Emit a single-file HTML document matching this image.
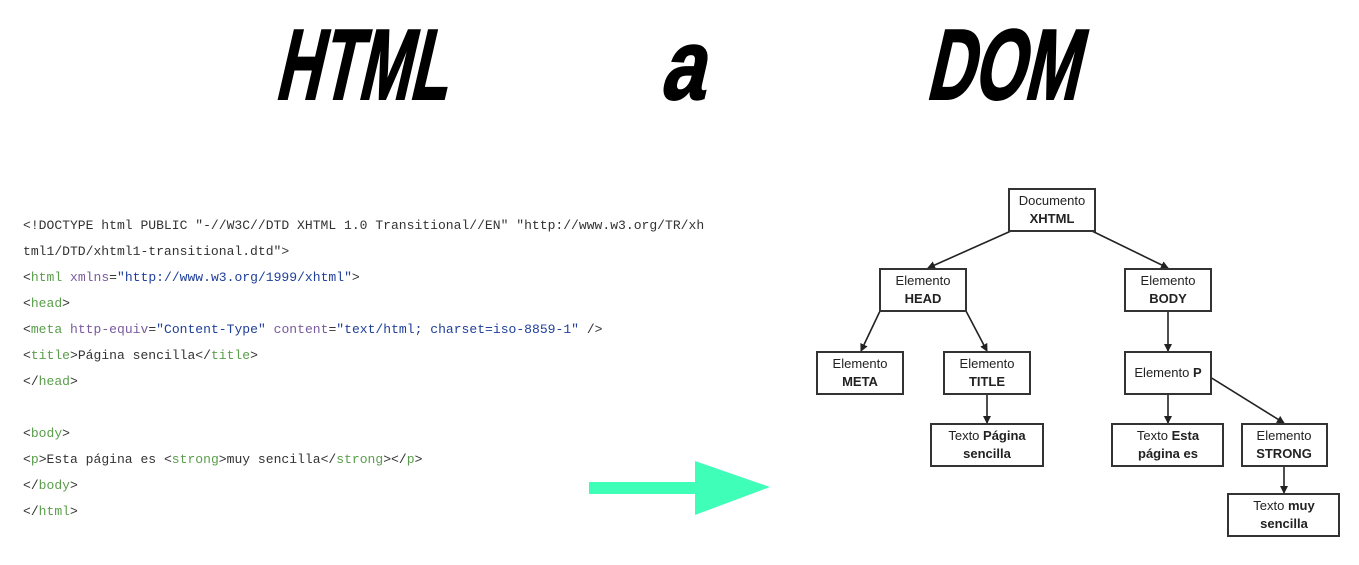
<!DOCTYPE html>
<html><head><meta charset="utf-8"><style>
html,body{margin:0;padding:0;background:#fff;width:1359px;height:565px;overflow:hidden}
svg{display:block}
.c{font-family:"Liberation Mono",monospace;font-size:13.05px;fill:#333}
.g{fill:#5a9e4b}.p{fill:#7a5aa0}.b{fill:#1f3f9a}
.n{font-family:"Liberation Sans",sans-serif;font-size:13px;fill:#222;text-anchor:middle}
rect.bx{fill:#fff;stroke:#333;stroke-width:2}
line.a{stroke:#222;stroke-width:1.6;marker-end:url(#ah)}
.t{font-family:"Liberation Sans",sans-serif;font-weight:bold;font-size:100px;fill:#000;stroke:#000;stroke-width:2}
</style></head><body>
<svg width="1359" height="565" viewBox="0 0 1359 565" xmlns="http://www.w3.org/2000/svg">
<defs><marker id="ah" markerWidth="8" markerHeight="8" refX="7" refY="4" orient="auto" markerUnits="userSpaceOnUse"><path d="M0,0 L8,4 L0,8 z" fill="#222"/></marker></defs>
<g transform="translate(0,100) skewX(-13) translate(0,-100)">
<text class="t" x="274" y="99" textLength="172" lengthAdjust="spacingAndGlyphs">HTML</text>
<text class="t" x="659" y="99" textLength="44" lengthAdjust="spacingAndGlyphs">a</text>
<text class="t" x="925" y="99" textLength="152" lengthAdjust="spacingAndGlyphs">DOM</text>
</g>

<g class="c">
<text x="23" y="229">&lt;!DOCTYPE html PUBLIC "-//W3C//DTD XHTML 1.0 Transitional//EN" "http://www.w3.org/TR/xh</text>
<text x="23" y="255">tml1/DTD/xhtml1-transitional.dtd"&gt;</text>
<text x="23" y="281">&lt;<tspan class="g">html</tspan> <tspan class="p">xmlns</tspan>=<tspan class="b">"http://www.w3.org/1999/xhtml"</tspan>&gt;</text>
<text x="23" y="307">&lt;<tspan class="g">head</tspan>&gt;</text>
<text x="23" y="333">&lt;<tspan class="g">meta</tspan> <tspan class="p">http-equiv</tspan>=<tspan class="b">"Content-Type"</tspan> <tspan class="p">content</tspan>=<tspan class="b">"text/html; charset=iso-8859-1"</tspan> /&gt;</text>
<text x="23" y="359">&lt;<tspan class="g">title</tspan>&gt;Página sencilla&lt;/<tspan class="g">title</tspan>&gt;</text>
<text x="23" y="385">&lt;/<tspan class="g">head</tspan>&gt;</text>
<text x="23" y="437">&lt;<tspan class="g">body</tspan>&gt;</text>
<text x="23" y="463">&lt;<tspan class="g">p</tspan>&gt;Esta página es &lt;<tspan class="g">strong</tspan>&gt;muy sencilla&lt;/<tspan class="g">strong</tspan>&gt;&lt;/<tspan class="g">p</tspan>&gt;</text>
<text x="23" y="489">&lt;/<tspan class="g">body</tspan>&gt;</text>
<text x="23" y="515">&lt;/<tspan class="g">html</tspan>&gt;</text>
</g>

<rect x="589" y="482" width="108" height="12" fill="#3fffb8"/>
<polygon points="695,461 770,487 695,515" fill="#3fffb8"/>

<g>
<line class="a" x1="1011" y1="231" x2="928" y2="268"/>
<line class="a" x1="1092" y1="231" x2="1168" y2="268"/>
<line class="a" x1="880" y1="311" x2="861" y2="351"/>
<line class="a" x1="966" y1="311" x2="987" y2="351"/>
<line class="a" x1="1168" y1="311" x2="1168" y2="351"/>
<line class="a" x1="987" y1="394" x2="987" y2="423"/>
<line class="a" x1="1168" y1="394" x2="1168" y2="423"/>
<line class="a" x1="1210" y1="377" x2="1284" y2="423"/>
<line class="a" x1="1284" y1="466" x2="1284" y2="493"/>
</g>
<g>
<rect class="bx" x="1009" y="189" width="86" height="42"/>
<rect class="bx" x="880" y="269" width="86" height="42"/>
<rect class="bx" x="1125" y="269" width="86" height="42"/>
<rect class="bx" x="817" y="352" width="86" height="42"/>
<rect class="bx" x="944" y="352" width="86" height="42"/>
<rect class="bx" x="1125" y="352" width="86" height="42"/>
<rect class="bx" x="931" y="424" width="112" height="42"/>
<rect class="bx" x="1112" y="424" width="111" height="42"/>
<rect class="bx" x="1242" y="424" width="85" height="42"/>
<rect class="bx" x="1228" y="494" width="111" height="42"/>
</g>
<g class="n">
<text x="1052" y="205">Documento</text><text x="1052" y="223" font-weight="bold">XHTML</text>
<text x="923" y="285">Elemento</text><text x="923" y="303" font-weight="bold">HEAD</text>
<text x="1168" y="285">Elemento</text><text x="1168" y="303" font-weight="bold">BODY</text>
<text x="860" y="368">Elemento</text><text x="860" y="386" font-weight="bold">META</text>
<text x="987" y="368">Elemento</text><text x="987" y="386" font-weight="bold">TITLE</text>
<text x="1168" y="377">Elemento <tspan font-weight="bold">P</tspan></text>
<text x="987" y="440">Texto <tspan font-weight="bold">Página</tspan></text><text x="987" y="458" font-weight="bold">sencilla</text>
<text x="1168" y="440">Texto <tspan font-weight="bold">Esta</tspan></text><text x="1168" y="458" font-weight="bold">página es</text>
<text x="1284" y="440">Elemento</text><text x="1284" y="458" font-weight="bold">STRONG</text>
<text x="1284" y="510">Texto <tspan font-weight="bold">muy</tspan></text><text x="1284" y="528" font-weight="bold">sencilla</text>
</g>
</svg>
</body></html>
